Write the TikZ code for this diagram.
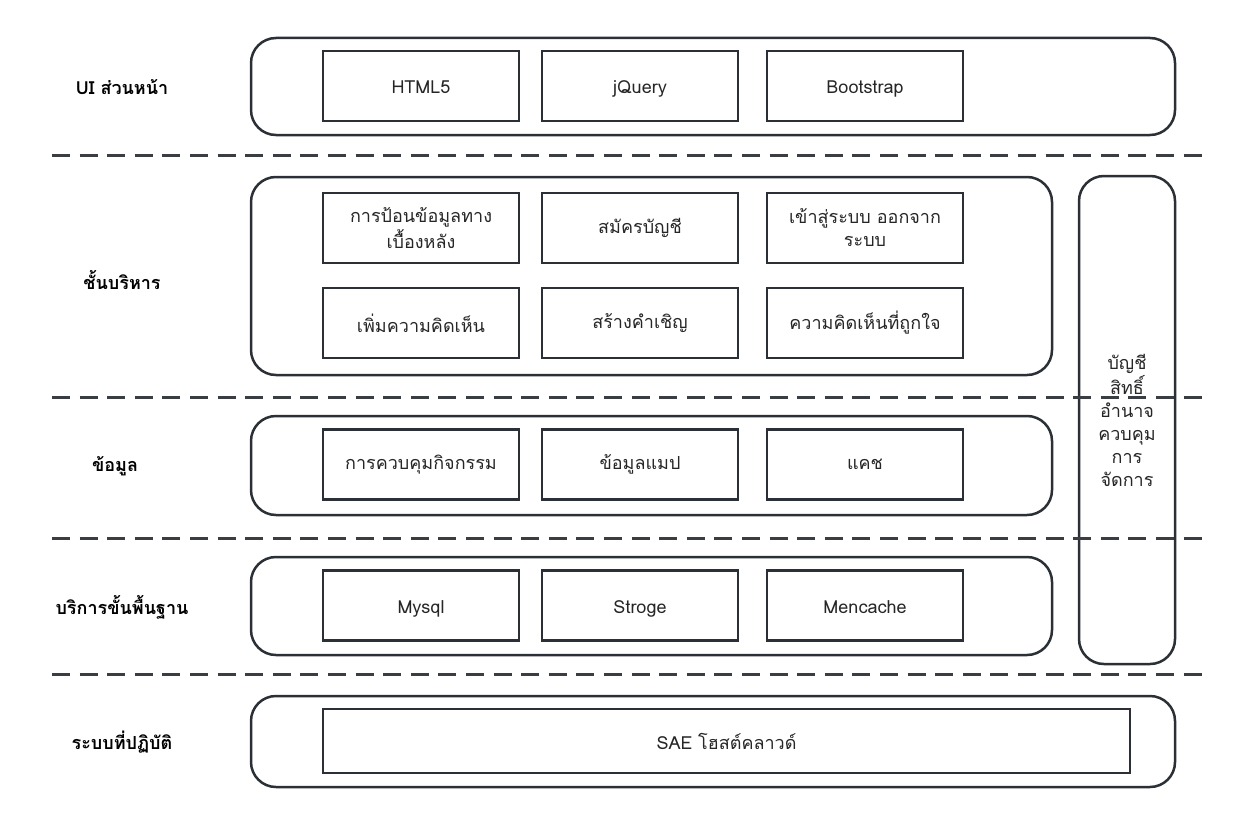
\documentclass[tikz,border=0pt]{standalone}
\usepackage{fontspec}
\setmainfont[Script=Thai]{Loma}
\newfontfamily\thaifont[Script=Thai]{Loma}
\definecolor{ink}{HTML}{2B3036}
\definecolor{dashc}{HTML}{3A3D41}
\tikzset{
  outerbox/.style={draw=ink, line width=1.25pt, rounded corners=12.5pt, inner sep=0pt},
  innerbox/.style={draw=ink, line width=1.2pt, minimum width=98pt, minimum height=35pt, inner sep=2pt, align=center, font=\thaifont\fontsize{9}{11.5}\selectfont, text=black!85},
  latin/.style={text height=8.5pt, text depth=0.5pt},
  layerlabel/.style={font=\thaifont\bfseries\fontsize{9}{11}\selectfont, text=black},
  sepline/.style={draw=dashc, line width=1.5pt, dash pattern=on 9pt off 4.8pt}
}
\begin{document}
\begin{tikzpicture}[x=0.5pt,y=-0.5pt]
\useasboundingbox[fill=white] (0,0) rectangle (1240,824);
% outer rounded boxes
\node[outerbox, minimum width=462pt, minimum height=48.5pt] (ui) at (713,86.5) {};
\node[outerbox, minimum width=400.5pt, minimum height=99pt] (admin) at (651.5,276) {};
\node[outerbox, minimum width=400.5pt, minimum height=49.5pt] (data) at (651.5,465.5) {};
\node[outerbox, minimum width=400.5pt, minimum height=49pt] (infra) at (651.5,606) {};
\node[outerbox, minimum width=462pt, minimum height=45.5pt] (os) at (713,741.5) {};
\node[outerbox, minimum width=48pt, minimum height=244pt] (auth) at (1127,420) {};
\node[font=\thaifont\fontsize{9}{11.5}\selectfont, align=center, text=black!85] (authtxt) at (1127,420) {บัญชี\\สิทธิ์\\อำนาจ\\ควบคุม\\การ\\จัดการ};
% separators
\coordinate (s1a) at (52,155); \coordinate (s1b) at (1202,155);
\coordinate (s2a) at (52,397); \coordinate (s2b) at (1202,397);
\coordinate (s3a) at (52,538); \coordinate (s3b) at (1202,538);
\coordinate (s4a) at (52,674); \coordinate (s4b) at (1202,674);
\draw[sepline] (s1a) -- (s1b);
\draw[sepline] (s2a) -- (s2b);
\draw[sepline] (s3a) -- (s3b);
\draw[sepline] (s4a) -- (s4b);
% layer labels
\node[layerlabel] (l1) at (122,87) {UI ส่วนหน้า};
\node[layerlabel] (l2) at (122,280) {ชั้นบริหาร};
\node[layerlabel] (l3) at (115,466) {ข้อมูล};
\node[layerlabel] (l4) at (122,607) {บริการขั้นพื้นฐาน};
\node[layerlabel] (l5) at (122,742) {ระบบที่ปฏิบัติ};
% UI row
\node[innerbox, latin] (html) at (421,86) {HTML5};
\node[innerbox, latin] (jq) at (640,86) {jQuery};
\node[innerbox, latin] (bs) at (865,86) {Bootstrap};
% admin rows
\node[innerbox] (a1) at (421,228) {การป้อนข้อมูลทาง\\เบื้องหลัง};
\node[innerbox] (a2) at (640,228) {สมัครบัญชี};
\node[innerbox] (a3) at (865,228) {เข้าสู่ระบบ ออกจาก\\ระบบ};
\node[innerbox] (a4) at (421,323) {เพิ่มความคิดเห็น};
\node[innerbox] (a5) at (640,323) {สร้างคำเชิญ};
\node[innerbox] (a6) at (865,323) {ความคิดเห็นที่ถูกใจ};
% data row
\node[innerbox] (d1) at (421,464.5) {การควบคุมกิจกรรม};
\node[innerbox] (d2) at (640,464.5) {ข้อมูลแมป};
\node[innerbox] (d3) at (865,464.5) {แคช};
% infra row
\node[innerbox, latin] (i1) at (421,605.5) {Mysql};
\node[innerbox, latin] (i2) at (640,605.5) {Stroge};
\node[innerbox, latin] (i3) at (865,605.5) {Mencache};
% os
\node[innerbox, minimum width=403.5pt, minimum height=32pt] (sae) at (726.5,741) {SAE โฮสต์คลาวด์};
\end{tikzpicture}
\end{document}
